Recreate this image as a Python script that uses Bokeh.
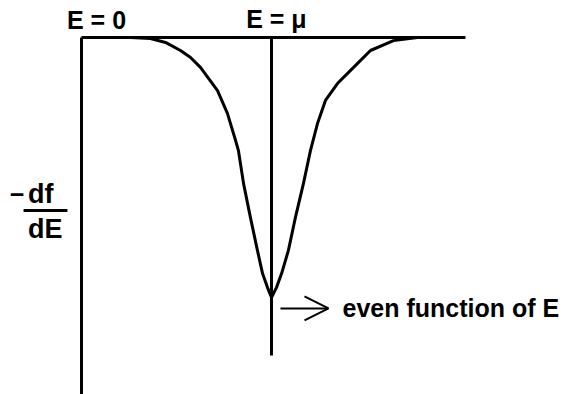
from bokeh.plotting import figure
from bokeh.models import Range1d, Arrow, OpenHead
from bokeh.core.properties import value
from bokeh.embed import file_html
from bokeh.resources import INLINE

# ---- data (E in units of mu, -df/dE normalised to its peak)
mu = 1.0
E_max = 2.021
curve_E = [0.258, 0.363, 0.442, 0.521, 0.574, 0.626, 0.716, 0.768, 0.811, 0.826,
           0.853, 0.889, 0.926, 0.953, 0.979, 1.000, 1.026, 1.053, 1.089, 1.126,
           1.168, 1.205, 1.242, 1.284, 1.347, 1.432, 1.521, 1.642, 1.768]
curve_val = [0.000, 0.004, 0.019, 0.050, 0.077, 0.115, 0.204, 0.292, 0.396, 0.435,
             0.562, 0.692, 0.819, 0.908, 0.962, 1.000, 0.962, 0.908, 0.819, 0.692,
             0.562, 0.435, 0.331, 0.242, 0.177, 0.115, 0.050, 0.012, 0.000]
mu_line_end = 1.223
left_axis_end = 1.45

FONT = value("Liberation Sans")

p = figure(width=565, height=394, output_backend="svg", toolbar_location=None,
           x_range=Range1d(-0.4263, 2.5474), y_range=Range1d(1.3731, -0.1423),
           x_axis_type=None, y_axis_type=None, min_border=0)
p.grid.visible = False
p.outline_line_color = None
p.background_fill_color = "white"
p.border_fill_color = "white"

# frame lines
p.line([0, E_max], [0, 0], line_color="black", line_width=3)
p.line([0, 0], [0, left_axis_end], line_color="black", line_width=3)
p.line([mu, mu], [0, mu_line_end], line_color="black", line_width=3)

# curve
p.line(curve_E, curve_val, line_color="black", line_width=3, line_join="round")

# labels
def label(x, y, t, align="left", size="25px"):
    p.text(x=[x], y=[y], text=[t], text_font=FONT, text_font_style="bold",
           text_font_size=size, text_align=align, text_baseline="alphabetic",
           text_color="black")

dy = 0.035
label(0.079, -0.031 - dy, "E = 0", "center")
label(1.026, -0.038 - dy, "E = μ", "center")
label(1.374, 1.077 - dy, "even function of E")

# -df/dE fraction
label(-0.378, 0.638 - dy, "−")
label(-0.281, 0.638 - dy, "df", size="27px")
p.segment(x0=[-0.305], y0=[0.665], x1=[-0.074], y1=[0.665], line_color="black",
          line_width=3)
label(-0.281, 0.773 - dy, "dE", size="27px")

# arrow
p.add_layout(Arrow(end=OpenHead(size=24, line_width=2, line_color="black"),
                   x_start=1.047, y_start=1.042, x_end=1.300, y_end=1.042,
                   line_width=2, line_color="black"))

open("out.html", "w").write(file_html(p, INLINE))
